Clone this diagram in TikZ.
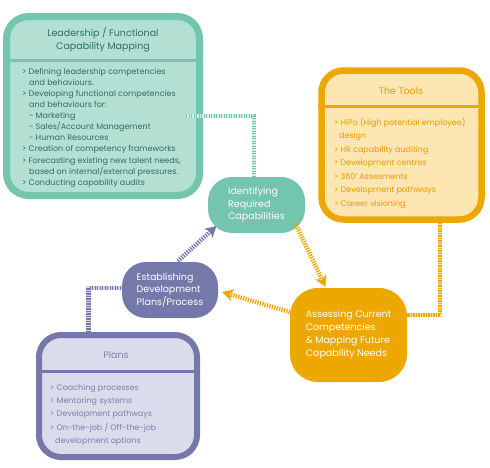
\documentclass[tikz,border=0pt]{standalone}
\usepackage{fontspec}
\setmainfont{Poppins}
\usetikzlibrary{arrows.meta,calc}
\definecolor{tealc}{HTML}{73C5AD}
\definecolor{tealfill}{HTML}{B4E0D3}
\definecolor{teallight}{HTML}{D6EFE7}
\definecolor{tealtext}{HTML}{2F6E61}
\definecolor{orc}{HTML}{EDA800}
\definecolor{orfill}{HTML}{FDE6B2}
\definecolor{orlight}{HTML}{FBE3A6}
\definecolor{ortext}{HTML}{E89C00}
\definecolor{puc}{HTML}{7579A9}
\definecolor{pufill}{HTML}{DBDCEB}
\definecolor{pulight}{HTML}{D3D5E8}
\definecolor{putext}{HTML}{7B7FAE}
\begin{document}
\begin{tikzpicture}[x=1pt,y=-1pt,
  panel/.style={draw, rectangle, rounded corners=22pt, inner sep=0pt},
  procnode/.style={rectangle, rounded corners=24pt, inner sep=0pt, text=white, align=left,
    font=\fontsize{9.5}{12.5}\selectfont},
  bodytxt/.style={anchor=north west, align=left, inner sep=0pt},
  titletxt/.style={align=center, inner sep=0pt, font=\fontsize{9.5}{13}\selectfont},
  stripe/.style={line width=4.5pt, dash pattern=on 1.3pt off 1.2pt},
  arrowtip/.style={-{Stealth[length=11pt,width=12pt,inset=3pt]}}
]
\useasboundingbox (0,0) rectangle (490,467);

% panels
\node[panel, draw=tealc, fill=tealfill, line width=7pt, minimum width=193pt, minimum height=179pt] (lead) at (103,106) {};
\draw[tealc, line width=3pt] (lead.west |- 0,60) -- (lead.east |- 0,60);
\node[panel, draw=orc, fill=orfill, line width=6.5pt, minimum width=160pt, minimum height=149pt] (tools) at (401.5,145) {};
\draw[orc, line width=3pt] (tools.west |- 0,106) -- (tools.east |- 0,106);
\node[panel, draw=puc, fill=pufill, line width=6pt, minimum width=158pt, minimum height=122pt] (plans) at (118,396) {};
\draw[puc, line width=3pt] (plans.west |- 0,371) -- (plans.east |- 0,371);

% titles
\node[titletxt, text=tealtext] (leadtitle) at (103,40) {Leadership / Functional\\Capability Mapping};
\node[titletxt, text=ortext] (toolstitle) at (401,91) {The Tools};
\node[titletxt, text=putext] (planstitle) at (116,355) {Plans};

% body texts
\node[bodytxt, text=tealtext, font=\fontsize{8}{11.1}\selectfont] (leadbody) at (22,65)
 {\rule{0pt}{9pt}> Defining leadership competencies\\
  \hspace*{7pt}and behaviours.\\
  > Developing functional competencies\\
  \hspace*{7pt}and behaviours for:\\
  \hspace*{7pt}- Marketing\\
  \hspace*{7pt}- Sales/Account Management\\
  \hspace*{7pt}- Human Resources\\
  > Creation of competency frameworks\\
  > Forecasting existing new talent needs,\\
  \hspace*{7pt}based on internal/external pressures.\\
  > Conducting capability audits};
\node[bodytxt, text=ortext, font=\fontsize{8}{13.5}\selectfont] (toolsbody) at (334,116)
 {\rule{0pt}{9pt}> HiPo (High potential employee)\\
  \hspace*{5pt}design\\
  > HR capability auditing\\
  > Development centres\\
  > 360’ Assesments\\
  > Development pathways\\
  > Career visioning};
\node[bodytxt, text=putext, font=\fontsize{8}{13.3}\selectfont] (plansbody) at (50,381)
 {\rule{0pt}{9pt}> Coaching processes\\
  > Mentoring systems\\
  > Development pathways\\
  > On-the-job / Off-the-job\\
  \hspace*{5pt}development options};

% process nodes
\node[procnode, fill=tealc, minimum width=97pt, minimum height=56pt] (ident) at (256.5,205)
 {Identifying\\Required\\Capabilities};
\node[procnode, fill=puc, minimum width=96pt, minimum height=56pt] (est) at (170,290)
 {Establishing\\Development\\Plans/Process};
\node[procnode, fill=orc, rounded corners=28pt, minimum width=117pt, minimum height=94pt,
  font=\fontsize{9.5}{13}\selectfont] (assess) at (348.5,335)
 {Assessing Current\\Competencies\\\& Mapping Future\\Capability Needs};

% connectors
\draw[stripe, tealc, preaction={draw=teallight, line width=4.5pt, solid}]
  ($(lead.center)+(83,10)$) -| ($(ident.north)+(-2.5,0)$);
\draw[stripe, orc, preaction={draw=orlight, line width=4.5pt, solid}]
  ($(tools.south)+(38.5,0)$) |- ($(assess.east)+(0,-20)$);
\draw[stripe, puc, preaction={draw=pulight, line width=4.5pt, solid}]
  ($(plans.north)+(-29.5,0)$) |- ($(est.west)+(0,-2)$);

% arrows
\draw[stripe, puc, arrowtip] ($(est.center)+(8,-29)$) -- ($(ident.center)+(-40,21)$);
\draw[stripe, orc, arrowtip] ($(ident.south east)+(-10,-10)$) -- ($(assess.north)+(-23,-1)$);
\draw[stripe, orc, arrowtip] ($(assess.west)+(0,-23)$) -- ($(est.east)+(4,2)$);
\end{tikzpicture}
\end{document}
